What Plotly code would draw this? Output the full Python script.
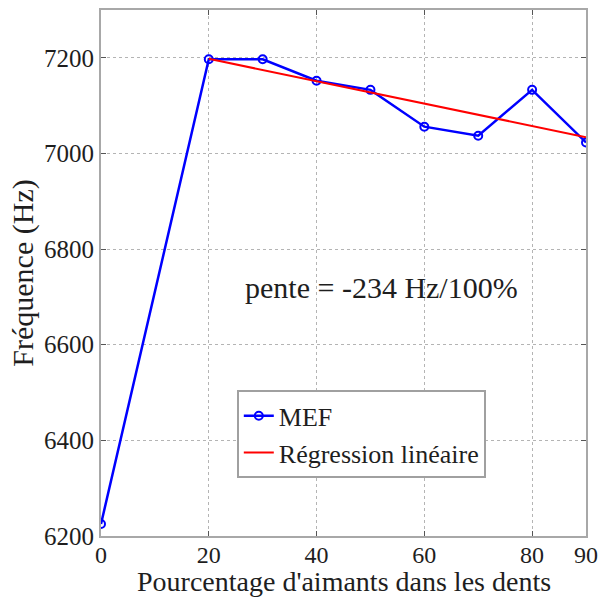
import numpy as np
import plotly.graph_objects as go

# Fréquence en fonction du pourcentage d'aimants dans les dents
pourcentage = [0, 20, 30, 40, 50, 60, 70, 80, 90]
frequence_mef = [6225, 7197, 7197, 7152, 7133, 7056, 7037, 7133, 7023]

# Régression linéaire sur les points à partir de 20 %
pente_hz_par_100 = -234
x_reg = [20, 90]

x_fit = np.array(pourcentage[1:], dtype=float)
y_fit = np.array(frequence_mef[1:], dtype=float)
pente = pente_hz_par_100 / 100.0
ordonnee = y_fit.mean() - pente * x_fit.mean()
y_reg = [ordonnee + pente * x for x in x_reg]

x_ticks = [0, 20, 40, 60, 80, 90]
y_ticks = [6200, 6400, 6600, 6800, 7000, 7200]

FONT = "Liberation Serif"
INK = "#1e1e1e"
MARGIN = dict(l=101, r=22, t=8, b=63)
HEIGHT = 599

fig = go.Figure()
fig.add_trace(go.Scatter(
    x=pourcentage, y=frequence_mef, mode="lines+markers", name="MEF",
    line=dict(color="#0000ff", width=2.5),
    marker=dict(symbol="circle-open", size=8, color="#0000ff", line=dict(width=2)),
))
fig.add_trace(go.Scatter(
    x=x_reg, y=y_reg, mode="lines", name="Régression linéaire",
    line=dict(color="#ff0000", width=2),
))

axis_common = dict(
    showline=True, linecolor="#a8a8a8", linewidth=2, mirror="ticks",
    ticks="inside", ticklen=5, tickcolor="#555555", tickwidth=1,
    showgrid=True, gridcolor="#b4b4b4", griddash="dot", gridwidth=1,
    zeroline=False,
)

fig.update_xaxes(
    range=[0, 90], tickvals=x_ticks, ticktext=[str(v) for v in x_ticks],
    tickfont=dict(family=FONT, size=24, color=INK), ticklabelstandoff=-4,
    **axis_common,
)
fig.update_yaxes(
    range=[6200, 7300], tickvals=y_ticks, ticktext=[str(v) for v in y_ticks],
    tickfont=dict(family=FONT, size=25, color=INK),
    title=dict(text="Fréquence (Hz)",
               font=dict(family=FONT, size=30, color=INK), standoff=2),
    **axis_common,
)

# Titre de l'axe horizontal, posé au bas de la figure
plot_h = HEIGHT - MARGIN["t"] - MARGIN["b"]
fig.add_annotation(
    x=0.5, y=-MARGIN["b"] / plot_h, xref="paper", yref="paper",
    xanchor="center", yanchor="bottom",
    text="Pourcentage d'aimants dans les dents", showarrow=False,
    font=dict(family=FONT, size=28, color=INK),
)

fig.add_annotation(
    x=52, y=6720, xref="x", yref="y", text="pente = -234 Hz/100%",
    showarrow=False, font=dict(family=FONT, size=30, color=INK),
    bgcolor="rgba(0,0,0,0)",
)

fig.update_layout(
    width=608, height=HEIGHT,
    margin=MARGIN,
    paper_bgcolor="white", plot_bgcolor="white",
    showlegend=True,
    legend=dict(
        x=0.28, y=0.277, xanchor="left", yanchor="top",
        bgcolor="white", bordercolor="#a0a0a0", borderwidth=2,
        font=dict(family=FONT, size=26, color=INK),
        itemwidth=30, tracegroupgap=0,
    ),
)

fig.write_html("out.html")
